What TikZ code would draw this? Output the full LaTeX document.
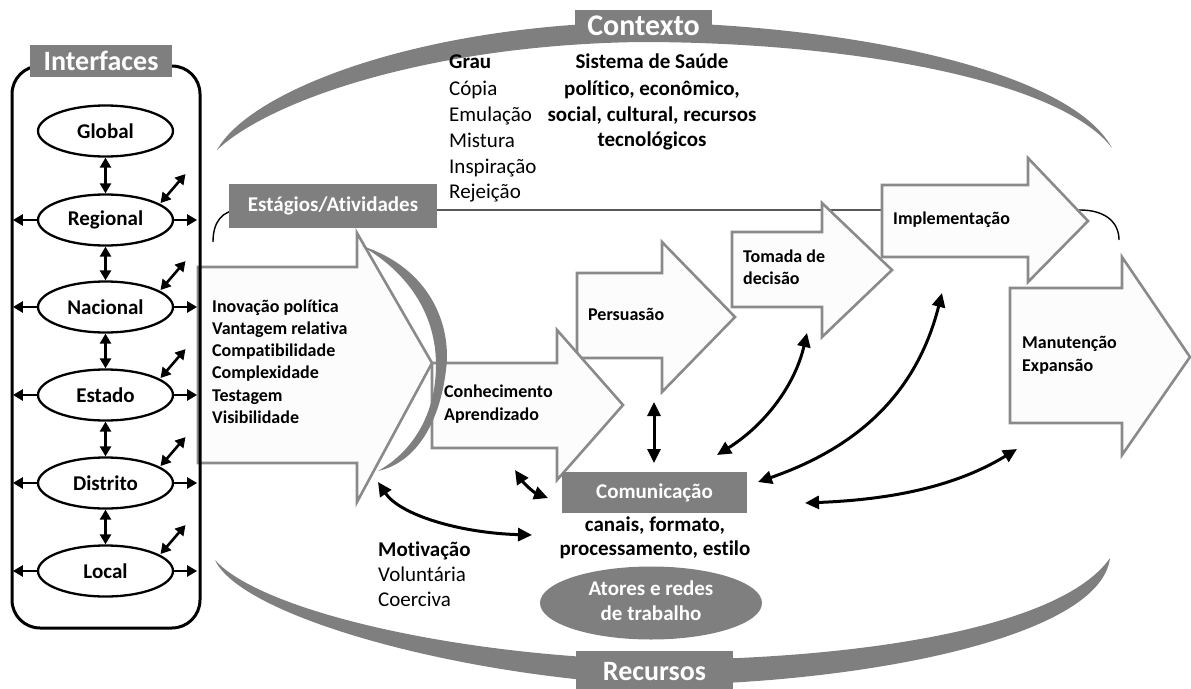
\documentclass[tikz,border=0pt]{standalone}
\usepackage{fontspec}
\setmainfont[RawFeature=-liga]{Carlito}
\usetikzlibrary{shapes.geometric,arrows.meta}
\definecolor{boxgray}{HTML}{7F7F7F}
\definecolor{arrgray}{HTML}{8A8A8A}
\definecolor{arrfill}{HTML}{FCFCFC}
\newcommand\myf[1]{\fontsize{#1}{#1}\selectfont}
\tikzset{
  gbox/.style={fill=boxgray, text=white, inner sep=0, font=\bfseries\myf{21}},
  stagearrow/.style={draw=arrgray, fill=arrfill, line width=2.6pt, line join=miter},
  lvl/.style={ellipse, draw, fill=white, line width=2.3pt, minimum width=135, minimum height=51, inner sep=0, font=\bfseries\myf{21}},
  lab/.style={anchor=west, inner sep=0, text height=0.75em, text depth=0.15em},
  clab/.style={anchor=center, inner sep=0, text height=0.75em, text depth=0.15em},
  conn/.style={line width=3pt, {Triangle[length=14pt,width=13pt]}-{Triangle[length=14pt,width=13pt]}},
  iconn/.style={line width=2.6pt, {Triangle[length=10pt,width=11pt]}-{Triangle[length=10pt,width=11pt]}},
  iout/.style={line width=2.6pt, -{Triangle[length=10pt,width=11pt]}},
  band/.style={fill=boxgray, draw=none},
}
\begin{document}
\begin{tikzpicture}[x=1pt,y=-1pt]
\useasboundingbox (0,0) rectangle (1191,688);
% context band (top)
\path[band] (217,150) .. controls (250,90) and (420,25) .. (640,22)
  .. controls (850,25) and (1070,70) .. (1112,148)
  .. controls (1060,80) and (850,42) .. (640,42)
  .. controls (430,45) and (270,100) .. (217,150) -- cycle;
% resources band (bottom)
\path[band] (215,560) .. controls (260,610) and (450,655) .. (650,660)
  .. controls (850,660) and (1060,630) .. (1110,558)
  .. controls (1100,640) and (850,685) .. (650,685)
  .. controls (450,675) and (240,615) .. (215,560) -- cycle;
% stages line
\draw[line width=1.4pt] (213,242) .. controls (213,222) and (222,210) .. (240,210) -- (1080,210)
  .. controls (1105,210) and (1119,222) .. (1119,240);
% stage arrows
\draw[stagearrow] (1010,288) -- (1122,288) -- (1122,257) -- (1190,357) -- (1122,455) -- (1122,423) -- (1010,423) -- cycle;
\draw[stagearrow] (882,185) -- (1028,185) -- (1028,158) -- (1088,221) -- (1028,282) -- (1028,257) -- (882,257) -- cycle;
\draw[stagearrow] (732,232) -- (822,232) -- (822,203) -- (892,270) -- (822,337) -- (822,307) -- (732,307) -- cycle;
\draw[stagearrow] (577,273) -- (662,273) -- (662,242) -- (735,317) -- (662,392) -- (662,358) -- (577,358) -- cycle;
\draw[stagearrow] (432,363) -- (557,363) -- (557,330) -- (623,405) -- (557,480) -- (557,448) -- (432,448) -- cycle;
\draw[stagearrow] (198,267) -- (357,267) -- (357,233) -- (432,363) -- (357,502) -- (357,463) -- (198,463) -- cycle;
% crescent at first arrow
\path[band] (362,246) .. controls (430,268) and (452,325) .. (446,370)
  .. controls (440,420) and (418,462) .. (378,471)
  .. controls (412,452) and (436,415) .. (436,365)
  .. controls (436,318) and (412,275) .. (362,246) -- cycle;
% stage labels
\node[gbox, minimum width=208, minimum height=44] (est) at (333,206) {Estágios/Atividades};
\begin{scope}[every node/.style={lab, font=\bfseries\myf{18}}]
\node (i1) at (212,309) {Inovação política};
\node (i2) at (212,331) {Vantagem relativa};
\node (i3) at (212,353) {Compatibilidade};
\node (i4) at (212,375) {Complexidade};
\node (i5) at (212,398) {Testagem};
\node (i6) at (212,420) {Visibilidade};
\node (k1) at (444,394) {Conhecimento};
\node (k2) at (444,417) {Aprendizado};
\node (pers) at (588,317) {Persuasão};
\node (t1) at (743,259) {Tomada de};
\node (t2) at (743,281) {decisão};
\node (impl) at (893,221) {Implementação};
\node (m1) at (1022,345) {Manutenção};
\node (m2) at (1022,368) {Expansão};
\end{scope}
% Grau
\node[lab, font=\bfseries\myf{21}] (grau) at (449,65) {Grau};
\begin{scope}[every node/.style={lab, font=\myf{21}}]
\node (g1) at (449,92) {Cópia};
\node (g2) at (449,118) {Emulação};
\node (g3) at (449,144) {Mistura};
\node (g4) at (449,170) {Inspiração};
\node (g5) at (449,195) {Rejeição};
\end{scope}
\begin{scope}[every node/.style={clab, font=\bfseries\myf{21}}]
\node (s1) at (652,65) {Sistema de Saúde};
\node (s2) at (652,92) {político, econômico,};
\node (s3) at (652,118) {social, cultural, recursos};
\node (s4) at (652,143) {tecnológicos};
\node (c1) at (655,528) {canais, formato,};
\node (c2) at (655,552) {processamento, estilo};
\end{scope}
% Motivacao
\node[lab, font=\bfseries\myf{21}] (mot) at (378,553) {Motivação};
\node[lab, font=\myf{21}] (mv) at (378,578) {Voluntária};
\node[lab, font=\myf{21}] (mc) at (378,603) {Coerciva};
% communication
\node[gbox, minimum width=185, minimum height=41] (com) at (654.5,492.5) {Comunicação};
\node[ellipse, fill=boxgray, minimum width=222, minimum height=73, inner sep=0] (act) at (651,603) {};
\node[clab, text=white, font=\bfseries\myf{21}] (a1) at (651,592) {Atores e redes};
\node[clab, text=white, font=\bfseries\myf{21}] (a2) at (651,617) {de trabalho};
% connector end points
\coordinate (pA) at (654,402); \coordinate (pB) at (654,463);
\coordinate (kA) at (515,470); \coordinate (kB) at (548,498);
\coordinate (mA) at (378,482); \coordinate (mB) at (532,535);
\coordinate (tA) at (717,455); \coordinate (tB) at (807,333);
\coordinate (iA) at (758,482); \coordinate (iB) at (942,293);
\coordinate (nA) at (805,503); \coordinate (nB) at (1017,449);
\draw[conn] (pA) -- (pB);
\draw[conn] (kA) .. controls (525,485) and (535,493) .. (kB);
\draw[conn] (mA) .. controls (400,515) and (460,533) .. (mB);
\draw[conn] (tA) .. controls (765,425) and (795,385) .. (tB);
\draw[conn] (iA) .. controls (850,450) and (915,400) .. (iB);
\draw[conn] (nA) .. controls (880,500) and (950,490) .. (nB);
% interfaces panel
\draw[line width=3pt, rounded corners=28] (12,66) rectangle (200,628);
\node[gbox, minimum width=142, minimum height=32, font=\bfseries\myf{28}] (intf) at (101,61) {Interfaces};
\node[lvl] (glob) at (105.5,131) {Global};
\node[lvl] (reg) at (105.5,220) {Regional};
\node[lvl] (nac) at (105.5,307) {Nacional};
\node[lvl] (est2) at (105.5,395) {Estado};
\node[lvl] (dis) at (105.5,483) {Distrito};
\node[lvl] (loc) at (105.5,571) {Local};
\draw[iconn] (glob) -- (reg);
\draw[iconn] (reg) -- (nac);
\draw[iconn] (nac) -- (est2);
\draw[iconn] (est2) -- (dis);
\draw[iconn] (dis) -- (loc);
\foreach \n in {reg,nac,est2,dis,loc}{
  \coordinate (\n L) at ([xshift=-24pt]\n.west);
  \coordinate (\n R) at ([xshift=23pt]\n.east);
  \coordinate (\n S) at ([xshift=55pt,yshift=17pt]\n.center);
  \coordinate (\n D) at ([xshift=80pt,yshift=46pt]\n.center);
  \draw[iout] (\n.west) -- (\n L);
  \draw[iout] (\n.east) -- (\n R);
  \draw[iconn] (\n S) -- (\n D);
}
% context & resources labels
\node[gbox, minimum width=137, minimum height=32, font=\bfseries\myf{30}] (ctx) at (643.5,26) {Contexto};
\node[gbox, minimum width=157, minimum height=42, font=\bfseries\myf{28}] (rec) at (654.5,672) {Recursos};
\end{tikzpicture}
\end{document}
